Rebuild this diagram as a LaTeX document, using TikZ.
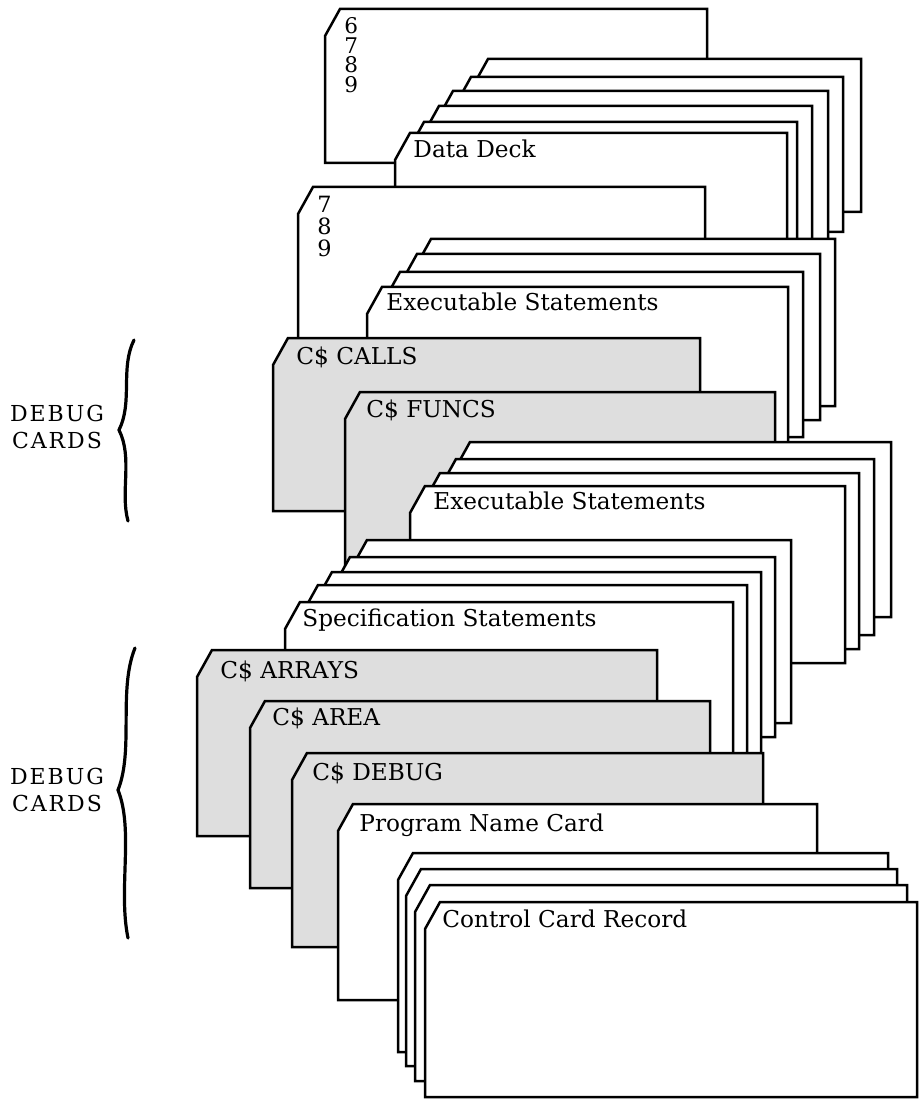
\documentclass[tikz,border=0pt]{standalone}
\usepackage{fontspec}
\setmainfont{DejaVu Serif}
\usepackage{tikz}
\definecolor{dbggray}{gray}{0.87}
% one punched card: left edge, top, right edge, bottom (corner clipped top left)
\newcommand{\deckcard}[5][card]{%
  \draw[#1] ({#2+15},#3) -- (#4,#3) -- (#4,#5) -- (#2,#5) -- (#2,{#3+27}) -- cycle;}

\begin{document}
\begin{tikzpicture}[x=0.5pt,y=-0.5pt,
  card/.style={draw,line width=1.25pt,fill=white},
  dcard/.style={card,fill=dbggray},
  lbl/.style={anchor=base west,inner sep=0pt,font=\fontsize{11.6}{14}\selectfont},
  dgt/.style={anchor=north west,align=left,inner sep=0pt},
  side/.style={align=center,inner sep=0pt,font=\fontsize{11}{13.5}\selectfont\addfontfeatures{LetterSpace=9}},
  brc/.style={line width=1.6pt,line cap=round}]
\useasboundingbox (0,0) rectangle (921,1101);
% data deck
\deckcard{325}{9}{707}{163}
\deckcard{473}{59}{861}{212}
\deckcard{456}{77}{843}{232}
\deckcard{438}{91}{828}{300}
\deckcard{424}{106}{812}{300}
\deckcard{409}{122}{797}{300}
\deckcard{395}{133}{787}{300}
\node[dgt,font=\fontsize{10.8}{9.8}\selectfont] (lbSix) at (344,17) {6\\7\\8\\9};
\node[lbl] (lbData) at (413,158) {Data Deck};
% source deck
\deckcard{298}{187}{705}{380}
\node[dgt,font=\fontsize{11.2}{11}\selectfont] (lbSeven) at (317,196) {7\\8\\9};
\deckcard{416}{239}{835}{406}
\deckcard{402}{254}{820}{420}
\deckcard{385}{272}{803}{437}
\deckcard{367}{287}{788}{480}
\node[lbl] (lbExecA) at (386,311) {Executable Statements};
\deckcard[dcard]{273}{338}{700}{511}
\node[lbl] (lbCalls) at (296,364) {C\$ CALLS};
\deckcard[dcard]{345}{392}{775}{600}
\node[lbl] (lbFuncs) at (366,417) {C\$ FUNCS};
\deckcard{455}{442}{891}{617}
\deckcard{441}{459}{874}{635}
\deckcard{425}{473}{859}{649}
\deckcard{410}{486}{845}{663}
\node[lbl] (lbExecB) at (433,509) {Executable Statements};
\deckcard{352}{540}{791}{723}
\deckcard{335}{557}{775}{737}
\deckcard{317}{572}{761}{760}
\deckcard{303}{585}{747}{760}
\deckcard{285}{602}{733}{760}
\node[lbl] (lbSpec) at (302,626) {Specification Statements};
\deckcard[dcard]{197}{650}{657}{836}
\node[lbl] (lbArrays) at (220,678) {C\$ ARRAYS};
\deckcard[dcard]{250}{701}{710}{888}
\node[lbl] (lbArea) at (272,725) {C\$ AREA};
\deckcard[dcard]{292}{753}{763}{947}
\node[lbl] (lbDebug) at (312,780) {C\$ DEBUG};
\deckcard{338}{804}{817}{1000}
\node[lbl] (lbProg) at (359,831) {Program Name Card};
% control cards
\deckcard{398}{853}{888}{1052}
\deckcard{406}{869}{897}{1066}
\deckcard{415}{885}{907}{1081}
\deckcard{425}{902}{917}{1097}
\node[lbl] (lbCtrl) at (442,927) {Control Card Record};
% debug card brackets
\node[side] (lbDbgA) at (57,427) {DEBUG\\CARDS};
\draw[brc] (134,340) .. controls (120,368) and (133,402) .. (119,430)
  .. controls (133,458) and (120,492) .. (128,521);
\node[side] (lbDbgB) at (57,790) {DEBUG\\CARDS};
\draw[brc] (135,648) .. controls (118,690) and (134,750) .. (118,790)
  .. controls (134,830) and (118,890) .. (128,938);
\end{tikzpicture}
\end{document}
